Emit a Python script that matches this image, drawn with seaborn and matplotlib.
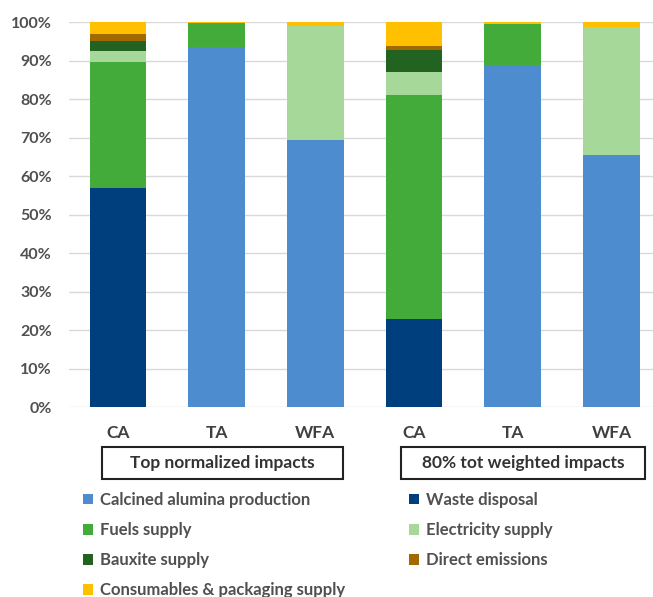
import numpy as np
import pandas as pd
import matplotlib
matplotlib.use("Agg")
import matplotlib.pyplot as plt
from matplotlib.patches import Rectangle, Patch
import seaborn as sns

# bar keys (unique) and the labels shown under them
bar_keys = ["CA_n", "TA_n", "WFA_n", "CA_w", "TA_w", "WFA_w"]
bar_labels = ["CA", "TA", "WFA", "CA", "TA", "WFA"]
groups = ["Top normalized impacts", "80% tot weighted impacts"]

# shares in % (stack order bottom -> top)
waste = [56.8, 0, 0, 22.9, 0, 0]
calcined = [0, 93.5, 69.5, 0, 88.8, 65.5]
fuels = [32.9, 6.3, 0, 58.2, 10.8, 0]
electricity = [2.8, 0, 29.5, 6.0, 0, 33.2]
bauxite = [2.7, 0, 0, 5.7, 0, 0]
direct = [1.6, 0, 0, 1.0, 0, 0]
consumables = [3.2, 0.2, 1.0, 6.2, 0.4, 1.3]

layers = ["Waste disposal", "Calcined alumina production", "Fuels supply",
          "Electricity supply", "Bauxite supply", "Direct emissions",
          "Consumables & packaging supply"]
colors = {"Calcined alumina production": "#4D8DCF",
          "Waste disposal": "#003F7D",
          "Fuels supply": "#43AB3A",
          "Electricity supply": "#A6D89A",
          "Bauxite supply": "#236321",
          "Direct emissions": "#A06A00",
          "Consumables & packaging supply": "#FFC000"}
values = [waste, calcined, fuels, electricity, bauxite, direct, consumables]

df = pd.DataFrame({name: v for name, v in zip(layers, values)}, index=bar_keys)
cum = df.cumsum(axis=1)

sns.set_style("white")
plt.rcParams["font.family"] = ["Lato", "DejaVu Sans"]
txt = "#404040"

fig = plt.figure(figsize=(6.53, 5.97), dpi=100)
ax = fig.add_axes([0.105, 0.318, 0.895, 0.645])

# draw cumulative totals from the top layer down so each one paints over
for name in reversed(layers):
    d = pd.DataFrame({"bar": bar_keys, "val": cum[name].values})
    sns.barplot(data=d, x="bar", y="val", order=bar_keys, color=colors[name],
                width=0.575, saturation=1, linewidth=0, ax=ax, zorder=2)

ax.set_xlim(-0.5, 5.42)
ax.set_ylim(0, 100)
ax.set_yticks(np.arange(0, 101, 10))
ax.set_yticklabels([f"{v}%" for v in range(0, 101, 10)])
ax.set_xticks(range(len(bar_keys)))
ax.set_xticklabels(bar_labels)
ax.set_xlabel("")
ax.set_ylabel("")
ax.grid(axis="y", color="#D9D9D9", linewidth=1, zorder=0)
ax.set_axisbelow(True)
for s in ax.spines.values():
    s.set_visible(False)
ax.tick_params(axis="y", length=0, pad=12, labelsize=11.5, labelcolor="#505050")
ax.tick_params(axis="x", length=0, pad=13, labelsize=12.5, labelcolor=txt)
for lab in ax.get_yticklabels() + ax.get_xticklabels():
    lab.set_fontweight("bold")

# group boxes under the axis
W, H = 653, 597
for label, (x0, x1) in zip(groups, [(102, 343), (401, 645)]):
    y0, y1 = 447, 479
    fig.add_artist(Rectangle((x0 / W, 1 - y1 / H), (x1 - x0) / W, (y1 - y0) / H,
                             transform=fig.transFigure, fill=False,
                             edgecolor="#222222", linewidth=1.5))
    fig.text((x0 + x1) / 2 / W, 1 - (y0 + y1) / 2 / H, label, ha="center",
             va="center", fontsize=12.5, fontweight="bold", color="#333333")

# legend, row-major order like the original
order = ["Calcined alumina production", "Fuels supply", "Bauxite supply",
         "Consumables & packaging supply", "Waste disposal",
         "Electricity supply", "Direct emissions"]
handles = [Patch(facecolor=colors[n], edgecolor="none") for n in order]
leg = fig.legend(handles, order, loc="upper left", bbox_to_anchor=(68 / W, 1 - 477 / H),
                 ncol=2, frameon=False, handlelength=0.6, handleheight=0.6,
                 handletextpad=0.4, columnspacing=3.85, labelspacing=0.85,
                 prop={"size": 12, "weight": "bold"})
for t in leg.get_texts():
    t.set_color("#505050")

fig.savefig("out.png", dpi=100)
